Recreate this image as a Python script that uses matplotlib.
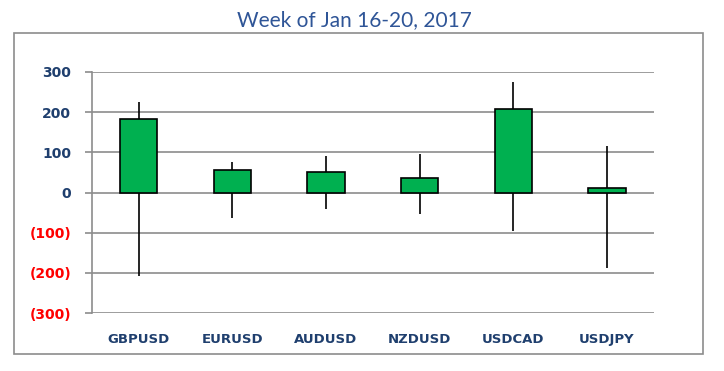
import matplotlib
matplotlib.use("Agg")
import matplotlib.pyplot as plt
from matplotlib.patches import Rectangle
from matplotlib.ticker import FuncFormatter

# weekly change (pips): box from 0 to close, whiskers to high / low
pairs = ["GBPUSD", "EURUSD", "AUDUSD", "NZDUSD", "USDCAD", "USDJPY"]
close = [182, 57, 52, 37, 207, 12]
high = [225, 77, 91, 97, 275, 117]
low = [-208, -63, -41, -53, -96, -188]
yticks = [-300, -200, -100, 0, 100, 200, 300]

fig = plt.figure(figsize=(7.24, 3.71), dpi=100)
ax = fig.add_axes([0.127, 0.156, 0.776, 0.650])

# outer chart border
fig.patches.append(Rectangle((14 / 724, 1 - 354 / 371), 689 / 724, 321 / 371,
                             transform=fig.transFigure, fill=False,
                             edgecolor="#8c8c8c", linewidth=1.2))

x = range(len(pairs))
for i in x:
    ax.vlines(i, low[i], high[i], color="black", linewidth=1.2, zorder=2)
ax.bar(x, close, width=0.4, color="#00b050", edgecolor="black",
       linewidth=1.2, zorder=3)

ax.set_xlim(-0.5, len(pairs) - 0.5)
ax.set_ylim(-300, 300)
ax.set_yticks(yticks)
ax.yaxis.set_major_formatter(FuncFormatter(
    lambda v, p: f"({abs(int(v))})" if v < 0 else f"{int(v)}"))
ax.grid(axis="y", color="#8c8c8c", linewidth=1.2, zorder=0)
ax.set_axisbelow(True)

for s in ["top", "right", "bottom"]:
    ax.spines[s].set_visible(False)
ax.spines["left"].set_color("#8c8c8c")
ax.spines["left"].set_linewidth(1.2)

ax.tick_params(axis="y", length=5, color="#8c8c8c", width=1.2, pad=10)
ax.tick_params(axis="x", length=0, pad=14)
ax.set_xticks(list(x))
ax.set_xticklabels(pairs, fontsize=9.5, fontweight="bold", color="#1f3f6e")

for lbl, v in zip(ax.get_yticklabels(), yticks):
    lbl.set_fontsize(10)
    lbl.set_fontweight("bold")
    lbl.set_color("#ff0000" if v < 0 else "#1f3f6e")

fig.text(0.49, 0.945, "Week of Jan 16-20, 2017", ha="center", va="center",
         fontsize=15, color="#2f5597", family="Lato")

fig.savefig("out.png", dpi=100)
